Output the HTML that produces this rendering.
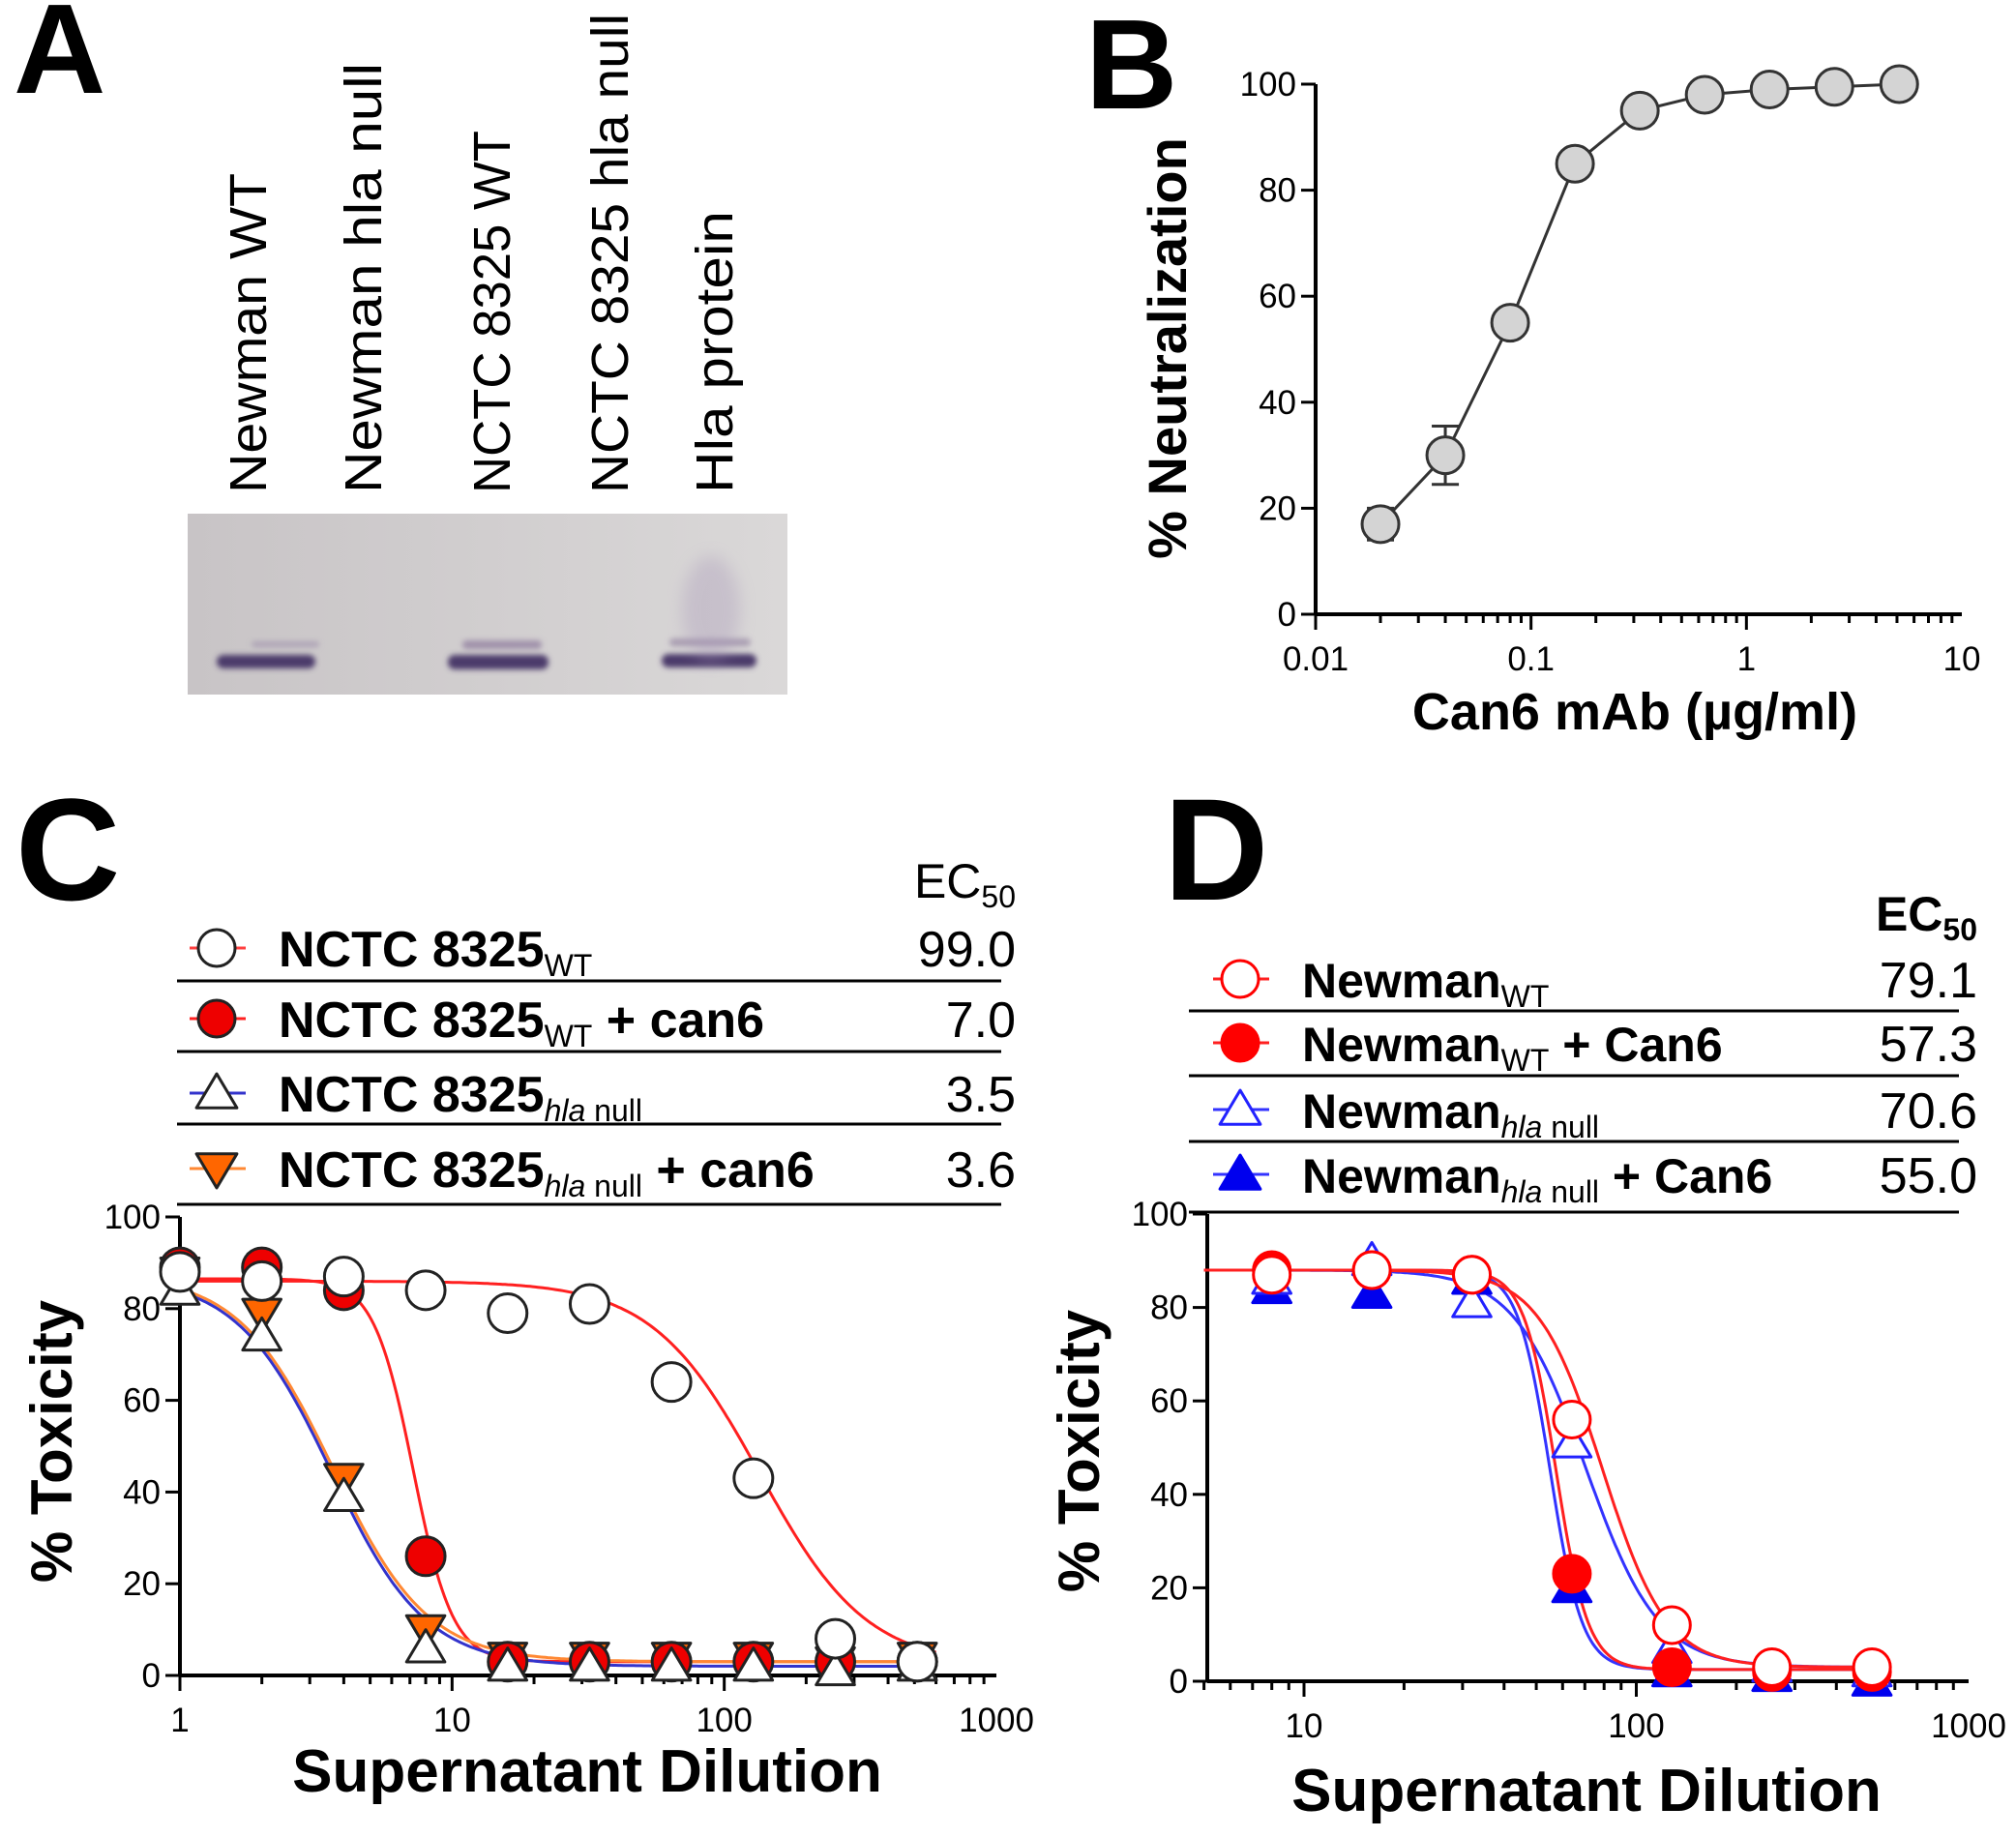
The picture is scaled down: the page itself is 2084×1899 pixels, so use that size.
<!DOCTYPE html>
<html><head><meta charset="utf-8"><style>
html,body{margin:0;padding:0;background:#fff;}
svg{display:block;font-family:"Liberation Sans",Arial,sans-serif;}
</style></head><body>
<svg id="fig" width="2084" height="1899" viewBox="0 0 2084 1899" xmlns="http://www.w3.org/2000/svg">
<defs>
<filter id="blur" x="-20%" y="-50%" width="140%" height="200%"><feGaussianBlur stdDeviation="3"/></filter>
<filter id="blur2" x="-50%" y="-50%" width="200%" height="200%"><feGaussianBlur stdDeviation="8"/></filter>
<linearGradient id="gelg" x1="0" x2="1" y1="0" y2="0"><stop offset="0" stop-color="#c8c4c6"/><stop offset="1" stop-color="#dad8d8"/></linearGradient>
</defs>

<!-- Panel A -->
<g>
<text x="14" y="96" font-size="132" font-weight="bold">A</text>
<text transform="translate(275,510) rotate(-90)" font-size="54" textLength="331" lengthAdjust="spacingAndGlyphs">Newman WT</text>
<text transform="translate(394,510) rotate(-90)" font-size="54" textLength="445" lengthAdjust="spacingAndGlyphs">Newman hla null</text>
<text transform="translate(527,510) rotate(-90)" font-size="54" textLength="375" lengthAdjust="spacingAndGlyphs">NCTC 8325  WT</text>
<text transform="translate(649,510) rotate(-90)" font-size="54" textLength="496" lengthAdjust="spacingAndGlyphs">NCTC 8325  hla null</text>
<text transform="translate(757,510) rotate(-90)" font-size="54" textLength="292" lengthAdjust="spacingAndGlyphs">Hla protein</text>
<rect x="194" y="531" width="620" height="187" fill="url(#gelg)"/>
<g filter="url(#blur)">
<rect x="224" y="677" width="102" height="14" rx="7" fill="#4b3b6b"/>
<rect x="260" y="663" width="70" height="6" rx="3" fill="#9a8aa8" opacity="0.6"/>
<rect x="463" y="677" width="104" height="15" rx="7" fill="#4b3b6b"/>
<rect x="478" y="662" width="82" height="9" rx="4" fill="#8a789a" opacity="0.7"/>
<rect x="684" y="676" width="98" height="14" rx="7" fill="#4b3b6b"/>
<rect x="692" y="660" width="84" height="8" rx="4" fill="#8a789a" opacity="0.6"/>
</g>
<ellipse cx="735" cy="630" rx="30" ry="55" fill="#a898b8" opacity="0.35" filter="url(#blur2)"/>
</g>

<!-- Panel B -->
<g id="pB">
<text x="1122" y="112" font-size="132" font-weight="bold">B</text>
<text transform="translate(1226,360) rotate(-90)" font-size="56" font-weight="bold" text-anchor="middle">%  Neutralization</text>
<text x="1690" y="754" font-size="54" font-weight="bold" text-anchor="middle">Can6 mAb (µg/ml)</text>
</g>

<!-- Panel C -->
<g id="pC">
<text x="16" y="930" font-size="150" font-weight="bold">C</text>
<text transform="translate(74,1490) rotate(-90)" font-size="60" font-weight="bold" text-anchor="middle">% Toxicity</text>
<text x="607" y="1852" font-size="62" font-weight="bold" text-anchor="middle">Supernatant Dilution</text>
</g>

<!-- Panel D -->
<g id="pD">
<text x="1203" y="930" font-size="150" font-weight="bold">D</text>
<text transform="translate(1136,1500) rotate(-90)" font-size="60" font-weight="bold" text-anchor="middle">% Toxicity</text>
<text x="1640" y="1872" font-size="62" font-weight="bold" text-anchor="middle">Supernatant Dilution</text>
</g>
</svg>

<script>
// ---------- DATA ----------
// Panel B
var bDoses = [0.02, 0.04, 0.08, 0.16, 0.32, 0.64, 1.28, 2.56, 5.12];
var bNeutral = [17, 30, 55, 85, 95, 98, 99, 99.5, 100];
var bErr = [3, 5.5, 0, 0, 0, 0, 0, 0, 0];
var bXTicks = [0.01, 0.1, 1, 10];
var bXTickLabels = ["0.01", "0.1", "1", "10"];
var bYTicks = [0, 20, 40, 60, 80, 100];

// Panel C
var cDilutions = [1, 2, 4, 8, 16, 32, 64, 128, 256, 512];
var cWT = [88, 86, 87, 84, 79, 81, 64, 43, 8, 3];
var cWTcan6 = [89, 89, 84, 26, 3, 3, 3, 3, 3, 3];
var cNull = [84, 74, 39, 6, 2, 2, 2, 2, 1, 2];
var cNullcan6 = [88, 79, 43, 10, 4, 4, 4, 4, 3, 4];
var cFitWT = [86, 2, 135, 2.2];
var cFitWTcan6 = [86.5, 3, 7.2, 6];
var cFitNull = [87, 2, 3.6, 2.5];
var cFitNullcan6 = [87.5, 3, 3.65, 2.5];
var cEC50 = ["99.0", "7.0", "3.5", "3.6"];
var cXTicks = [1, 10, 100, 1000];
var cXTickLabels = ["1", "10", "100", "1000"];
var yTicks = [0, 20, 40, 60, 80, 100];

// Panel D
var dDilutions = [8, 16, 32, 64, 128, 256, 512];
var dWT = [87, 88, 87, 56, 12, 3, 3];
var dWTcan6 = [88, 88, 87, 23, 3, 2, 2];
var dNull = [86, 90, 81, 51, 7, 3, 2];
var dNullcan6 = [84, 83, 86, 20, 2, 1, 0];
var dFitWT = [88, 3, 79, 4.5];
var dFitWTcan6 = [88, 2.5, 57.3, 9];
var dFitNull = [88, 3, 70.6, 4];
var dFitNullcan6 = [88, 2.5, 55, 9];
var dEC50 = ["79.1", "57.3", "70.6", "55.0"];
var dXTicks = [10, 100, 1000];
var dXTickLabels = ["10", "100", "1000"];

// ---------- HELPERS ----------
var NS = "http://www.w3.org/2000/svg";
function mk(parent, tag, attrs) {
  var e = document.createElementNS(NS, tag);
  for (var k in attrs) e.setAttribute(k, attrs[k]);
  parent.appendChild(e);
  return e;
}
function logScale(d0, d1, r0, r1) {
  var l0 = Math.log10(d0), l1 = Math.log10(d1);
  return function (v) { return r0 + (Math.log10(v) - l0) / (l1 - l0) * (r1 - r0); };
}
function linScale(d0, d1, r0, r1) {
  return function (v) { return r0 + (v - d0) / (d1 - d0) * (r1 - r0); };
}
function fit4(p, x) { return p[1] + (p[0] - p[1]) / (1 + Math.pow(x / p[2], p[3])); }

function marker(g, type, x, y, r, fill, stroke, sw) {
  var el;
  if (type === "circle") {
    el = mk(g, "circle", {cx: x, cy: y, r: r, fill: fill, stroke: stroke, "stroke-width": sw});
  } else if (type === "up") {
    el = mk(g, "polygon", {points: x + "," + (y - r * 1.05) + " " + (x - r * 1.1) + "," + (y + r * 0.8) + " " + (x + r * 1.1) + "," + (y + r * 0.8), fill: fill, stroke: stroke, "stroke-width": sw, "stroke-linejoin": "round"});
  } else {
    el = mk(g, "polygon", {points: x + "," + (y + r * 1.05) + " " + (x - r * 1.1) + "," + (y - r * 0.8) + " " + (x + r * 1.1) + "," + (y - r * 0.8), fill: fill, stroke: stroke, "stroke-width": sw, "stroke-linejoin": "round"});
  }
  return el;
}

function logAxis(g, sx, x0, x1, yAxis, ticks, labels, minD, maxD, prefix) {
  var ax = mk(g, "line", {x1: x0, y1: yAxis, x2: x1, y2: yAxis, stroke: "#000", "stroke-width": 4});
  
  
  for (var dec = Math.floor(Math.log10(minD)); dec < Math.ceil(Math.log10(maxD)); dec++) {
    for (var m = 1; m <= 9; m++) {
      var v = m * Math.pow(10, dec);
      if (v < minD * 0.999 || v > maxD * 1.001) continue;
      var xx = sx(v);
      var len = (m === 1) ? 16 : 9;
      var t = mk(g, "line", {x1: xx, y1: yAxis, x2: xx, y2: yAxis + len, stroke: "#000", "stroke-width": 3});
      
      
    }
  }
  for (var i = 0; i < ticks.length; i++) {
    var lb = mk(g, "text", {x: sx(ticks[i]), y: yAxis + 58, "font-size": 35, "text-anchor": "middle"});
    lb.textContent = labels[i];
    
    
  }
}
function linYAxis(g, sy, xAxis, yTop, yBot, ticks, prefix) {
  var ax = mk(g, "line", {x1: xAxis, y1: yTop, x2: xAxis, y2: yBot, stroke: "#000", "stroke-width": 4});
  
  
  for (var i = 0; i < ticks.length; i++) {
    var yy = sy(ticks[i]);
    var t = mk(g, "line", {x1: xAxis - 15, y1: yy, x2: xAxis, y2: yy, stroke: "#000", "stroke-width": 3});
    
    
    var lb = mk(g, "text", {x: xAxis - 20, y: yy + 12, "font-size": 35, "text-anchor": "end"});
    lb.textContent = String(ticks[i]);
    
    
  }
}
function fitCurve(g, p, sx, sy, xa, xb, color, name) {
  var pts = [];
  var la = Math.log10(xa), lb = Math.log10(xb);
  for (var i = 0; i <= 300; i++) {
    var x = Math.pow(10, la + (lb - la) * i / 300);
    pts.push(sx(x).toFixed(1) + "," + sy(fit4(p, x)).toFixed(1));
  }
  var pl = mk(g, "polyline", {points: pts.join(" "), fill: "none", stroke: color, "stroke-width": 3});
  
  
}
function points(g, xs, ys, sx, sy, type, r, fill, stroke, name) {
  for (var i = 0; i < xs.length; i++) {
    var m = marker(g, type, sx(xs[i]), sy(ys[i]), r, fill, stroke, 3);
    
    
  }
}
function legendRow(g, y, x0, x1, lineColor, type, fill, stroke, main, sub, subItalic, suffix, ec, ecRight, fontSize, name) {
  var ln = mk(g, "line", {x1: x0 - 28, y1: y, x2: x0 + 30, y2: y, stroke: lineColor, "stroke-width": 3});
  
  
  var m = marker(g, type, x0, y, 19, fill, stroke, 3);
  
  
  var t = mk(g, "text", {x: x0 + 64, y: y + 19, "font-size": fontSize, "font-weight": "bold"});
  
  
  var s1 = mk(t, "tspan", {});
  s1.textContent = main;
  if (subItalic) {
    var si = mk(t, "tspan", {"font-size": 32, "font-weight": "normal", "font-style": "italic", dy: 10});
    si.textContent = subItalic + " ";
    var s2 = mk(t, "tspan", {"font-size": 32, "font-weight": "normal"});
    s2.textContent = sub;
  } else {
    var s3 = mk(t, "tspan", {"font-size": 32, "font-weight": "normal", dy: 10});
    s3.textContent = sub;
  }
  if (suffix) {
    var s4 = mk(t, "tspan", {dy: -10});
    s4.textContent = suffix;
  }
  var v = mk(g, "text", {x: ecRight, y: y + 19, "font-size": 52, "text-anchor": "end"});
  v.textContent = ec;
  
  
}

// ---------- PANEL B ----------
(function () {
  var g = document.getElementById("pB");
  var sx = logScale(0.01, 10, 1360, 2028);
  var sy = linScale(0, 100, 635, 87);
  linYAxis(g, sy, 1360, 87, 635, bYTicks, "b");
  logAxis(g, sx, 1360, 2028, 635, bXTicks, bXTickLabels, 0.01, 10, "b");
  var pts = [];
  for (var i = 0; i < bDoses.length; i++) pts.push(sx(bDoses[i]) + "," + sy(bNeutral[i]));
  var pl = mk(g, "polyline", {points: pts.join(" "), fill: "none", stroke: "#333", "stroke-width": 3});
  
  
  for (var j = 0; j < bDoses.length; j++) {
    if (bErr[j] > 0) {
      var x = sx(bDoses[j]);
      var e = mk(g, "path", {d: "M" + x + "," + sy(bNeutral[j] - bErr[j]) + "V" + sy(bNeutral[j] + bErr[j]) + "M" + (x - 14) + "," + sy(bNeutral[j] - bErr[j]) + "h28M" + (x - 14) + "," + sy(bNeutral[j] + bErr[j]) + "h28", stroke: "#333", "stroke-width": 3, fill: "none"});
      
      
    }
  }
  points(g, bDoses, bNeutral, sx, sy, "circle", 19, "#d4d4d4", "#333", "neutralization-point");
})();

// ---------- PANEL C ----------
(function () {
  var g = document.getElementById("pC");
  var sx = logScale(1, 1000, 186, 1030);
  var sy = linScale(0, 100, 1732, 1258);
  var hdr = mk(g, "text", {x: 1050, y: 928, "font-size": 50});
  hdr.setAttribute("text-anchor", "end");
  
  
  var h1 = mk(hdr, "tspan", {}); h1.textContent = "EC";
  var h2 = mk(hdr, "tspan", {"font-size": 32, dy: 10}); h2.textContent = "50";
  var rowsY = [980, 1053, 1130, 1208];
  var sepY = [1014, 1087, 1162, 1245];
  for (var i = 0; i < sepY.length; i++) {
    var s = mk(g, "line", {x1: 183, y1: sepY[i], x2: 1035, y2: sepY[i], stroke: "#000", "stroke-width": 3});
    
    
  }
  legendRow(g, rowsY[0], 224, 0, "#ff4040", "circle", "#fff", "#222", "NCTC 8325", "WT", null, "", cEC50[0], 1050, 52, "legend-entry-nctc-wt");
  legendRow(g, rowsY[1], 224, 0, "#ff2020", "circle", "#ee0000", "#222", "NCTC 8325", "WT", null, " + can6", cEC50[1], 1050, 52, "legend-entry-nctc-wt-can6");
  legendRow(g, rowsY[2], 224, 0, "#3333cc", "up", "#fff", "#222", "NCTC 8325", "null", "hla", "", cEC50[2], 1050, 52, "legend-entry-nctc-hla-null");
  legendRow(g, rowsY[3], 224, 0, "#ff8833", "down", "#ff6600", "#222", "NCTC 8325", "null", "hla", " + can6", cEC50[3], 1050, 52, "legend-entry-nctc-hla-null-can6");

  linYAxis(g, sy, 186, 1258, 1732, yTicks, "c");
  logAxis(g, sx, 186, 1030, 1732, cXTicks, cXTickLabels, 1, 1000, "c");
  fitCurve(g, cFitWT, sx, sy, 1, 600, "#ff2020", "fit-curve-nctc-wt");
  fitCurve(g, cFitWTcan6, sx, sy, 1, 600, "#ff2020", "fit-curve-nctc-wt-can6");
  fitCurve(g, cFitNullcan6, sx, sy, 1, 600, "#ff8833", "fit-curve-nctc-hla-null-can6");
  fitCurve(g, cFitNull, sx, sy, 1, 600, "#3333cc", "fit-curve-nctc-hla-null");
  points(g, cDilutions, cNullcan6, sx, sy, "down", 18, "#ff6600", "#222", "point-nctc-hla-null-can6");
  points(g, cDilutions, cWTcan6, sx, sy, "circle", 20, "#ee0000", "#222", "point-nctc-wt-can6");
  points(g, cDilutions, cNull, sx, sy, "up", 18, "#fff", "#222", "point-nctc-hla-null");
  points(g, cDilutions, cWT, sx, sy, "circle", 20, "#fff", "#222", "point-nctc-wt");
})();

// ---------- PANEL D ----------
(function () {
  var g = document.getElementById("pD");
  var sx = logScale(10, 1000, 1348, 2035);
  var sy = linScale(0, 100, 1738, 1255);
  var hdr = mk(g, "text", {x: 2044, y: 962, "font-size": 50, "font-weight": "bold"});
  hdr.setAttribute("text-anchor", "end");
  
  
  var h1 = mk(hdr, "tspan", {}); h1.textContent = "EC";
  var h2 = mk(hdr, "tspan", {"font-size": 32, dy: 10}); h2.textContent = "50";
  var rowsY = [1012, 1078, 1147, 1214];
  var sepY = [1045, 1112, 1180, 1253];
  for (var i = 0; i < sepY.length; i++) {
    var s = mk(g, "line", {x1: 1229, y1: sepY[i], x2: 2025, y2: sepY[i], stroke: "#000", "stroke-width": 3});
    
    
  }
  legendRow(g, rowsY[0], 1282, 0, "#ff2020", "circle", "#fff", "#ff0000", "Newman", "WT", null, "", dEC50[0], 2044, 50, "legend-entry-newman-wt");
  legendRow(g, rowsY[1], 1282, 0, "#ff2020", "circle", "#ff0000", "#ff0000", "Newman", "WT", null, " + Can6", dEC50[1], 2044, 50, "legend-entry-newman-wt-can6");
  legendRow(g, rowsY[2], 1282, 0, "#3333ff", "up", "#fff", "#2222ff", "Newman", "null", "hla", "", dEC50[2], 2044, 50, "legend-entry-newman-hla-null");
  legendRow(g, rowsY[3], 1282, 0, "#3333ff", "up", "#0000ee", "#0000ee", "Newman", "null", "hla", " + Can6", dEC50[3], 2044, 50, "legend-entry-newman-hla-null-can6");

  linYAxis(g, sy, 1248, 1255, 1738, yTicks, "d");
  logAxis(g, sx, 1248, 2035, 1738, dXTicks, dXTickLabels, 5, 1000, "d");
  fitCurve(g, dFitNull, sx, sy, 5, 520, "#3333ff", "fit-curve-newman-hla-null");
  fitCurve(g, dFitNullcan6, sx, sy, 5, 520, "#3333ff", "fit-curve-newman-hla-null-can6");
  fitCurve(g, dFitWTcan6, sx, sy, 5, 520, "#ff2020", "fit-curve-newman-wt-can6");
  fitCurve(g, dFitWT, sx, sy, 5, 520, "#ff2020", "fit-curve-newman-wt");
  points(g, dDilutions, dNullcan6, sx, sy, "up", 18, "#0000ee", "#0000ee", "point-newman-hla-null-can6");
  points(g, dDilutions, dNull, sx, sy, "up", 18, "#fff", "#2222ff", "point-newman-hla-null");
  points(g, dDilutions, dWTcan6, sx, sy, "circle", 19, "#ff0000", "#ff0000", "point-newman-wt-can6");
  points(g, dDilutions, dWT, sx, sy, "circle", 19, "#fff", "#ff0000", "point-newman-wt");
})();
</script>
</body></html>
